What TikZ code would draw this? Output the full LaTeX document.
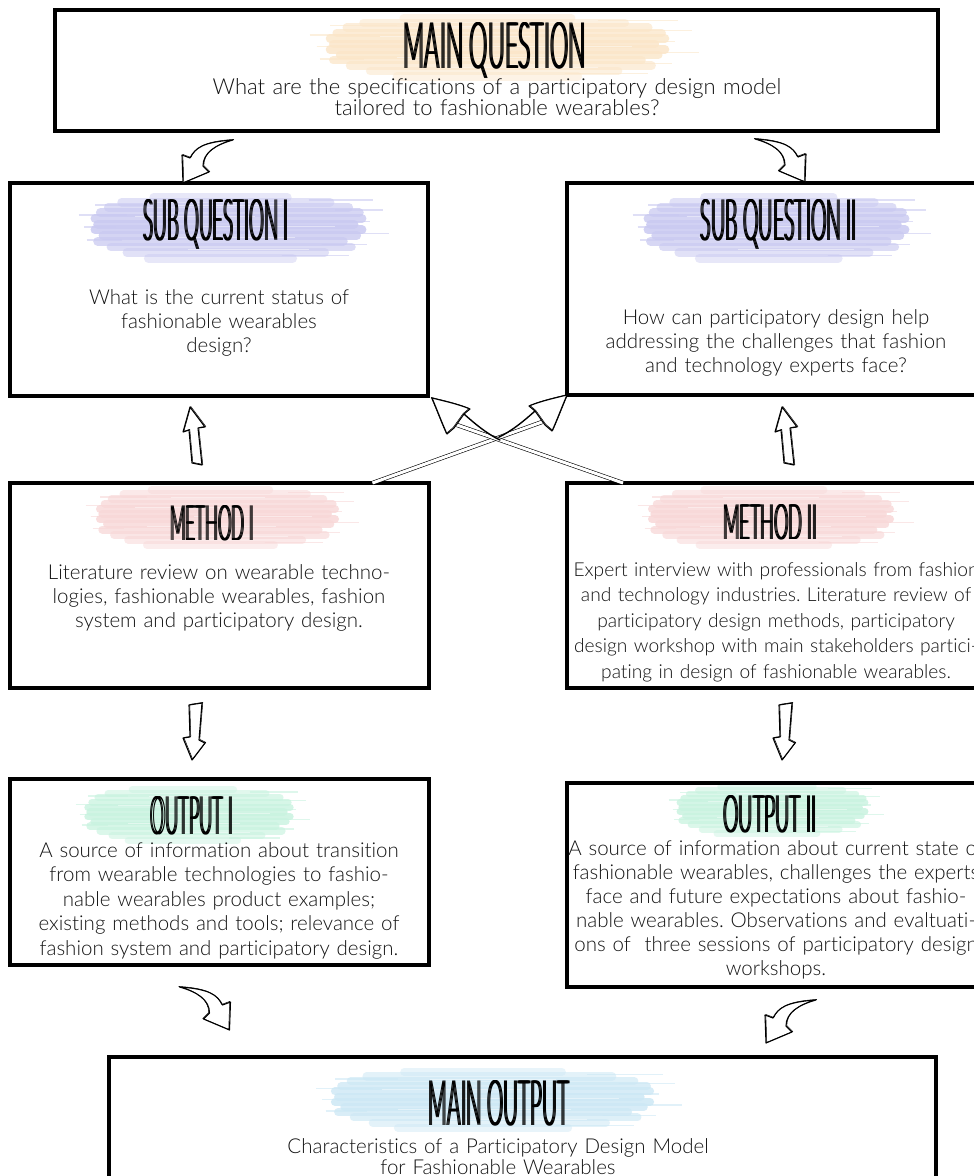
\documentclass[tikz,border=0pt]{standalone}
\usepackage{fontspec}
\IfFontExistsTF{Lato Light}
  {\setmainfont{Lato Light}[Ligatures=CommonOff]\newcommand\bodysize{20.5}%
   \newfontfamily\handfont{Lato Light}[Ligatures=CommonOff]}
  {\setmainfont{TeX Gyre Heros}\newcommand\bodysize{19}%
   \newfontfamily\handfont{TeX Gyre Heros}}
\usetikzlibrary{calc}
\frenchspacing

\definecolor{peach}{HTML}{FBE6C9}
\definecolor{lavender}{HTML}{CACAF1}
\definecolor{blush}{HTML}{F8D8D8}
\definecolor{mint}{HTML}{C9F3E0}
\definecolor{sky}{HTML}{CDE8F5}
\definecolor{ink}{HTML}{141414}

\tikzset{
  panel/.style={draw=black, line width=3.2pt, inner sep=0pt, outer sep=0pt},
  body/.style={font=\fontsize{\bodysize}{24}\selectfont, text=ink, align=center,
               text width=900pt, inner sep=0pt, anchor=base},
  tight/.style={font=\fontsize{\bodysize}{21}\selectfont},
  large/.style={font=\fontsize{22}{21}\selectfont},
  small/.style={font=\fontsize{19.2}{25.5}\selectfont},
  heading/.style={inner sep=0pt, anchor=center, text=black},
  stroke/.style={line width=1.1pt, line join=round, line cap=round},
  echo/.style={line width=0.5pt, line join=round, line cap=round},
  shaft/.style={draw=black, double=white, double distance=3pt, line width=0.6pt}
}

% hand lettered heading squeezed to a given width and cap height;
% set three times with small offsets so the narrow stems get a pen width
\newcommand\squeezed[3]{\resizebox{#1pt}{#2pt}{\handfont #3}}
\newcommand\heading[3]{%
  \makebox[0pt][l]{\squeezed{#1}{#2}{#3}}\hspace{1pt}%
  \makebox[0pt][l]{\squeezed{#1}{#2}{#3}}\hspace{1pt}%
  \squeezed{#1}{#2}{#3}}

% a brush stroke behind a heading: corners (#1,#2)-(#3,#4), colour #5
\newcommand\brush[5]{%
  \pgfmathsetmacro\bw{(#4-#2)/8}%
  \begin{scope}[shift={(#1,#2)}, xscale={(#3-#1)/100}, yscale={(#4-#2)/100}]
    \foreach \yy/\xa/\xb/\op in {6/22/72/.45, 13/10/88/.55, 20/5/95/.65, 28/2/99/.75,
        36/0/100/.8, 44/1/97/.85, 52/0/100/.85, 60/3/98/.8, 68/1/93/.75,
        76/6/96/.65, 84/12/86/.55, 92/20/74/.45}
      \draw[#5, line width=\bw pt, line cap=round, draw opacity=\op] (\xa,\yy) -- (\xb,\yy);
    \foreach \yy/\xa/\xb in {10/80/104, 24/90/108, 31/-6/12, 40/88/103, 48/-4/8,
        57/92/110, 66/-3/10, 73/85/102, 88/70/95, 17/0/20}
      \draw[#5, line width=1.3pt, draw opacity=.6] (\xa,\yy) -- (\xb,\yy);
    \foreach \yy/\xa/\xb in {18/30/70, 33/15/60, 47/40/90, 63/20/75, 79/35/80}
      \draw[white, line width=.6pt, draw opacity=.45] (\xa,\yy) -- (\xb,\yy);
  \end{scope}}

% outline traced twice for a pen-drawn look
\newcommand\sketchy[1]{%
  \filldraw[fill=white, draw=black, stroke] #1;
  \draw[echo, xshift=0.8pt, yshift=0.6pt] #1;}

\begin{document}
\begin{tikzpicture}[x=1pt, y=-1pt]
\useasboundingbox (0,0) rectangle (974,1176);
\fill[white] (0,0) rectangle (974,1176);
\clip (0,0) rectangle (974,1176);

% brush strokes
\brush{330}{14}{665}{82}{peach}
\brush{95}{193}{362}{264}{lavender}
\brush{648}{193}{905}{264}{lavender}
\brush{100}{486}{335}{550}{blush}
\brush{652}{486}{890}{550}{blush}
\brush{88}{786}{290}{845}{mint}
\brush{680}{783}{865}{838}{mint}
\brush{335}{1068}{650}{1133}{sky}

% frames
\node[panel, minimum width=883pt, minimum height=121pt] (mq)  at (496.5,70.5) {};
\node[panel, minimum width=418pt, minimum height=213pt] (sq1) at (219,289.5) {};
\node[panel, minimum width=418pt, minimum height=212pt] (sq2) at (776,289) {};
\node[panel, minimum width=419pt, minimum height=205pt] (m1)  at (219.5,585.5) {};
\node[panel, minimum width=418pt, minimum height=205pt] (m2)  at (776,585.5) {};
\node[panel, minimum width=419pt, minimum height=186pt] (o1)  at (219.5,872) {};
\node[panel, minimum width=418pt, minimum height=204pt] (o2)  at (776,885) {};
\node[panel, minimum width=827pt, minimum height=150pt] (mo)  at (522.5,1132) {};

% headings
\node[heading] (hmq)  at (495,51)   {\heading{182}{46}{MAIN QUESTION}};
\node[heading] (hsq1) at (216,224)  {\heading{145}{41}{SUB QUESTION I}};
\node[heading] (hsq2) at (779,224)  {\heading{156}{41}{SUB QUESTION II}};
\node[heading] (hm1)  at (212,523)  {\heading{84}{35}{METHOD I}};
\node[heading] (hm2)  at (770,522)  {\heading{94}{35}{METHOD II}};
\node[heading] (ho1)  at (192,816)  {\heading{82}{38}{OUTPUT I}};
\node[heading] (ho2)  at (770,814)  {\heading{93}{37}{OUTPUT II}};
\node[heading] (hmo)  at (499,1103) {\heading{140}{45}{MAIN OUTPUT}};

% texts
\node[body, large] (tmq) at (497,94) {What are the specifications of a participatory design model\\
  tailored to fashionable wearables?};
\node[body] (tsq1) at (219,304) {What is the current status of\\ fashionable wearables\\ design?};
\node[body] (tsq2) at (776,324) {How can participatory design help\\
  addressing the challenges that fashion\\ and technology experts face?};
\node[body] (tm1) at (219,579) {Literature review on wearable techno-\\
  logies, fashionable wearables, fashion\\ system and participatory design.};
\node[body, small] (tm2) at (776,576) {Expert interview with professionals from fashion\\
  and technology industries. Literature review of\\
  participatory design methods, participatory\\
  design workshop with main stakeholders partici-\\
  pating in design of fashionable wearables.};
\node[body, font=\fontsize{\bodysize}{24.5}\selectfont] (to1) at (219,857)
  {A source of information about transition\\
  from wearable technologies to fashio-\\
  nable wearables product examples;\\
  existing methods and tools; relevance of\\
  fashion system and participatory design.};
\node[body] (to2) at (776,855) {A source of information about current state of\\
  fashionable wearables, challenges the experts\\
  face and future expectations about fashio-\\
  nable wearables. Observations and evaltuati-\\
  ons of\ \ three sessions of participatory design\\
  workshops.};
\node[body, tight] (tmo) at (498,1153) {Characteristics of a Participatory Design Model\\
  for Fashionable Wearables};

% swoosh arrows from the main question to the sub questions
\begin{scope}[shift={($(sq1.north)+(-36,0)$)}]
  \sketchy{(0,0) -- (-1,-28) -- (7,-25) .. controls (12,-35) and (20,-41) .. (50,-43)
    .. controls (32,-38) and (20,-30) .. (20,-17) -- (26,-11) -- cycle}
\end{scope}
\begin{scope}[shift={($(sq2.north)+(29,-1)$)}, xscale=-1]
  \sketchy{(0,0) -- (-1,-28) -- (7,-25) .. controls (12,-35) and (20,-41) .. (50,-43)
    .. controls (32,-38) and (20,-30) .. (20,-17) -- (26,-11) -- cycle}
\end{scope}

% block arrows from the methods up to the sub questions
\begin{scope}[shift={($(sq1.south)+(-29,11)$)}]
  \sketchy{(0,0) -- (-7,25) -- (-1,23) -- (2,56) -- (12,58) -- (8,21) -- (15,20) -- cycle}
\end{scope}
\begin{scope}[shift={($(sq2.south)+(6,12)$)}]
  \sketchy{(0,0) -- (-7,25) -- (-1,23) -- (2,56) -- (12,58) -- (8,21) -- (15,20) -- cycle}
\end{scope}

% block arrows from the methods down to the outputs
\begin{scope}[shift={($(m1.south)+(-27.5,72)$)}]
  \sketchy{(0,0) -- (-9,-22) -- (-2,-23) -- (-3,-55) -- (10,-57) -- (7,-20) -- (13,-17) -- cycle}
\end{scope}
\begin{scope}[shift={($(m2.south)+(6,72)$)}]
  \sketchy{(0,0) -- (-9,-22) -- (-2,-23) -- (-3,-55) -- (10,-57) -- (7,-20) -- (13,-17) -- cycle}
\end{scope}

% swoosh arrows from the outputs to the main output
\begin{scope}[shift={($(o1.south)+(10,65)$)}, xscale=-1]
  \sketchy{(0,0) -- (-1,-28) -- (7,-25) .. controls (12,-35) and (20,-41) .. (50,-43)
    .. controls (32,-38) and (20,-30) .. (20,-17) -- (26,-11) -- cycle}
\end{scope}
\begin{scope}[shift={($(o2.south)+(-10,56)$)}]
  \sketchy{(0,0) -- (-1,-28) -- (7,-25) .. controls (12,-35) and (20,-41) .. (50,-43)
    .. controls (32,-38) and (20,-30) .. (20,-17) -- (26,-11) -- cycle}
\end{scope}

% crossing arrows: each method also feeds the other sub question
\coordinate (sA) at ($(m1.north west)!0.865!(m1.north east)$);
\coordinate (tA) at (sq2.south west);
\coordinate (sB) at ($(m2.north west)!0.134!(m2.north east)$);
\coordinate (tB) at ($(sq1.south east)+(4,2)$);
\draw[shaft] (sA) -- ($(tA)+(-25,27)$);
\draw[shaft] (sB) -- ($(tB)+(25,27)$);
\begin{scope}[shift={(tA)}]
  \sketchy{(0,0) .. controls (-12,3) and (-26,6) .. (-38,11) -- (-32,16) -- (-22,30)
    -- (-15,36) .. controls (-10,25) and (-6,14) .. (0,0) -- cycle}
  \draw[line width=1.4pt, line cap=round] (-32,16) .. controls (-42,25) and (-55,36) .. (-68,42);
\end{scope}
\begin{scope}[shift={(tB)}, xscale=-1]
  \sketchy{(0,0) .. controls (-12,3) and (-26,6) .. (-38,11) -- (-32,16) -- (-22,30)
    -- (-15,36) .. controls (-10,25) and (-6,14) .. (0,0) -- cycle}
  \draw[line width=1.4pt, line cap=round] (-32,16) .. controls (-42,25) and (-55,36) .. (-68,42);
\end{scope}
\end{tikzpicture}
\end{document}
